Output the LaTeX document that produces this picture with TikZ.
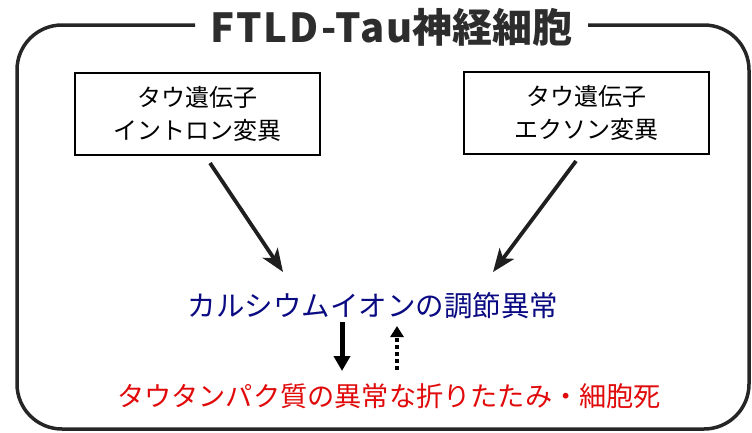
\documentclass[tikz,border=0pt]{standalone}
\usepackage{fontspec}
\setmainfont{Noto Sans CJK JP}
\usetikzlibrary{arrows.meta}
\definecolor{navy}{RGB}{10,10,130}
\definecolor{redtxt}{RGB}{225,10,10}
\definecolor{titlegray}{RGB}{45,45,45}
\tikzset{
  genebox/.style={draw, line width=1.2pt, minimum width=245pt, minimum height=82pt, align=center, font=\fontsize{24}{33}\selectfont, inner sep=0pt},
  conn/.style={line width=3.8pt, black!88, -{Stealth[length=23pt,width=18pt,inset=6pt]}},
  solidarrow/.style={line width=5pt, -{Triangle[length=15pt,width=16pt]}},
  dotarrow/.style={line width=4.5pt, dash pattern=on 4pt off 3pt, -{Triangle[length=11pt,width=13pt]}},
}
\begin{document}
\begin{tikzpicture}[x=1pt,y=-1pt]
\useasboundingbox (0,0) rectangle (752,432);
\draw[line width=3.5pt, black!85, rounded corners=45pt] (588,25) -- (749,25) -- (749,429) -- (17,429) -- (17,25) -- (195,25);
\node[anchor=base west, inner sep=0pt, font=\fontsize{40}{40}\selectfont\bfseries, text=titlegray] (title) at (210,42) {{\addfontfeature{LetterSpace=5}FTLD-Tau}神経細胞};
\node[genebox] (lbox) at (197.5,114) {タウ遺伝子\\イントロン変異};
\node[genebox] (rbox) at (586.5,113) {タウ遺伝子\\エクソン変異};
\node[font=\fontsize{28.5}{30}\selectfont, text=navy, inner sep=0pt] (ca) at (373,306) {カルシウムイオンの調節異常};
\node[font=\fontsize{27.2}{30}\selectfont, text=redtxt, inner sep=0pt] (tau) at (389,396) {タウタンパク質の異常な折りたたみ・細胞死};
\coordinate (l1) at (210,163);
\coordinate (l2) at (283,272);
\coordinate (r1) at (576,161);
\coordinate (r2) at (493,272);
\draw[conn] (l1) -- (l2);
\draw[conn] (r1) -- (r2);
\coordinate (d1) at (342,322);
\coordinate (d2) at (342,371);
\coordinate (u1) at (397,370);
\coordinate (u2) at (397,326);
\draw[solidarrow] (d1) -- (d2);
\draw[dotarrow] (u1) -- (u2);
\end{tikzpicture}
\end{document}
